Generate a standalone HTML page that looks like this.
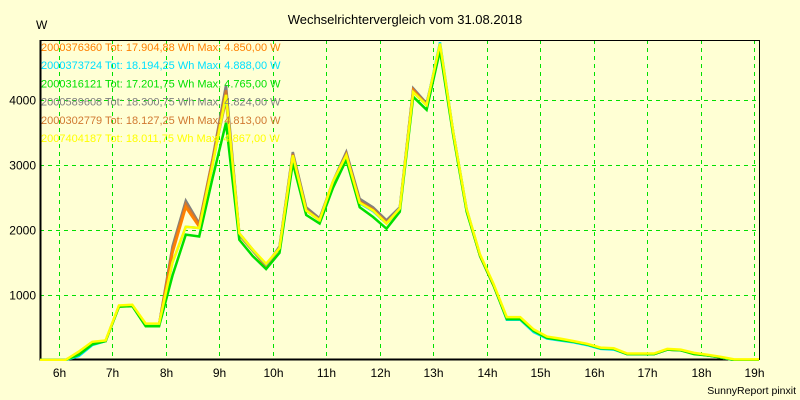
<!DOCTYPE html>
<html><head><meta charset="utf-8"><style>
body{margin:0;background:#ffffd4;}
svg{display:block;font-family:"Liberation Sans",sans-serif;}
</style></head><body>
<svg id="chart" width="800" height="400">
<rect x="0" y="0" width="800" height="400" fill="#ffffd4"/>
<text x="405" y="24" text-anchor="middle" font-size="13" fill="#000">Wechselrichtervergleich vom 31.08.2018</text>
<text x="36" y="29" font-size="12" fill="#000">W</text>
<text x="796" y="394" text-anchor="end" font-size="10.5" fill="#000">SunnyReport pinxit</text>
<g id="grid"></g><g id="axes"></g><g id="series"></g><g id="legend"></g>
</svg>
<script>
const times=[5.63,5.88,6.13,6.38,6.63,6.88,7.13,7.38,7.63,7.88,8.13,8.38,8.63,8.88,9.13,9.38,9.63,9.88,10.13,10.38,10.63,10.88,11.13,11.38,11.63,11.88,12.13,12.38,12.63,12.88,13.13,13.38,13.63,13.88,14.13,14.38,14.63,14.88,15.13,15.38,15.63,15.88,16.13,16.38,16.63,16.88,17.13,17.38,17.63,17.88,18.13,18.38,18.63,18.88,19.13];
const hourTicks=[6,7,8,9,10,11,12,13,14,15,16,17,18,19];
const yTicks=[1000,2000,3000,4000];
const greyVals=[0,0,0,110,260,290,830,840,550,550,1750,2450,2100,3100,4230,1950,1700,1450,1750,3200,2350,2180,2750,3200,2480,2350,2150,2350,4180,3950,4824,3500,2300,1600,1150,640,640,450,350,320,280,240,180,170,90,90,90,160,150,100,70,40,0,0,0];
const brownVals=[0,0,0,105,258,290,830,840,548,548,1700,2400,2080,3080,4150,1930,1690,1440,1730,3170,2320,2160,2730,3170,2440,2320,2120,2330,4160,3930,4813,3490,2300,1600,1150,640,640,450,350,320,280,240,180,170,90,90,90,160,150,100,70,40,0,0,0];
const orangeVals=[0,0,0,100,255,290,830,840,545,545,1650,2350,2050,3050,4000,1920,1680,1440,1720,3150,2300,2150,2720,3150,2420,2300,2100,2320,4150,3920,4850,3480,2300,1600,1150,640,640,450,350,320,280,240,180,170,90,90,90,160,150,100,70,40,0,0,0];
const cyanVals=[0,0,0,60,230,290,830,840,550,550,1500,2050,2030,3000,4060,1940,1690,1470,1720,3140,2300,2150,2740,3140,2410,2290,2100,2330,4120,3920,4888,3500,2320,1610,1160,620,620,430,330,300,270,230,170,160,90,90,90,160,150,100,70,40,0,0,0];
const greenVals=[0,0,0,80,240,290,820,830,520,520,1300,1930,1900,2800,3650,1850,1600,1400,1650,3030,2230,2100,2650,3080,2350,2200,2020,2280,4050,3850,4765,3450,2280,1600,1150,630,630,450,340,310,280,240,180,170,90,90,90,160,150,90,70,40,0,0,0];
const yellowVals=[0,0,0,130,280,300,840,850,560,560,1500,2050,2030,3000,4080,1950,1700,1480,1720,3150,2300,2150,2750,3150,2420,2300,2100,2330,4120,3920,4867,3500,2320,1620,1170,660,660,470,360,330,290,250,190,180,100,100,100,170,160,110,80,50,10,10,10];
const legendLabels=["2000376360 Tot: 17.904,88 Wh Max: 4.850,00 W","2000373724 Tot: 18.194,25 Wh Max: 4.888,00 W","2000316121 Tot: 17.201,75 Wh Max: 4.765,00 W","2000589608 Tot: 18.300,75 Wh Max: 4.824,00 W","2000302779 Tot: 18.127,25 Wh Max: 4.813,00 W","2007404187 Tot: 18.011,75 Wh Max: 4.867,00 W"];
const legendColors=["#ff8000","#00e0ff","#00e000","#808080","#d07830","#ffff00"];
const seriesList=[["grey",greyVals,"#808080"],["brown",brownVals,"#d07830"],["orange",orangeVals,"#ff8000"],["cyan",cyanVals,"#00e0ff"],["green",greenVals,"#00e000"],["yellow",yellowVals,"#ffff00"]];

const L=40,R=759,T=40,B=359;
function xs(h){return 112+(h-7)*53.5;}
function ys(v){return 360-v*0.065;}
const NS="http://www.w3.org/2000/svg";
function mk(tag,parent){const e=document.createElementNS(NS,tag);document.getElementById(parent).appendChild(e);return e;}

hourTicks.forEach(h=>{
  const x=Math.round(xs(h))+0.5;
  if(x<R){const g=mk("line","grid");
  
  
  g.setAttribute("x1",x);g.setAttribute("x2",x);g.setAttribute("y1",T);g.setAttribute("y2",B);
  g.setAttribute("stroke","#00e000");g.setAttribute("stroke-dasharray","4,4");}
  const t=mk("text","axes");
  
  
  t.setAttribute("x",x);t.setAttribute("y",377);t.setAttribute("text-anchor","middle");t.setAttribute("font-size","12");
  t.textContent=h+"h";
});
yTicks.forEach(v=>{
  const y=Math.round(ys(v))+0.5;
  const g=mk("line","grid");
  
  
  g.setAttribute("x1",L);g.setAttribute("x2",R);g.setAttribute("y1",y);g.setAttribute("y2",y);
  g.setAttribute("stroke","#00e000");g.setAttribute("stroke-dasharray","4,4");
  const t=mk("text","axes");
  
  
  t.setAttribute("x",36);t.setAttribute("y",y+4);t.setAttribute("text-anchor","end");t.setAttribute("font-size","12");
  t.textContent=v;
});
const frame=mk("rect","axes");


frame.setAttribute("x",L+0.5);frame.setAttribute("y",T+0.5);frame.setAttribute("width",R-L);frame.setAttribute("height",B-T);
frame.setAttribute("fill","none");frame.setAttribute("stroke","#000");frame.setAttribute("stroke-width","1");

seriesList.forEach(s=>{
  const p=mk("polyline","series");
  
  
  p.setAttribute("points",s[1].map((v,i)=>xs(times[i]).toFixed(1)+","+ys(v).toFixed(1)).join(" "));
  p.setAttribute("fill","none");p.setAttribute("stroke",s[2]);p.setAttribute("stroke-width","2.5");
  p.setAttribute("clip-path","url(#plotclip)");
});
const cp=document.createElementNS(NS,"clipPath");cp.setAttribute("id","plotclip");
const cr=document.createElementNS(NS,"rect");cr.setAttribute("x",L);cr.setAttribute("y",T);cr.setAttribute("width",R-L);cr.setAttribute("height",B-T+2);
cp.appendChild(cr);document.getElementById("chart").appendChild(cp);

const ax=mk("path","axes");


ax.setAttribute("d","M"+(L+0.5)+" "+T+" V"+(B+0.5)+" H"+R);
ax.setAttribute("stroke","#000");ax.setAttribute("stroke-width","2");ax.setAttribute("fill","none");

legendLabels.forEach((lab,i)=>{
  const t=mk("text","legend");
  
  
  t.setAttribute("x",41);t.setAttribute("y",51+i*18.2);t.setAttribute("font-size","11");
  t.setAttribute("fill",legendColors[i]);
  t.textContent=lab;
});
</script>
</body></html>
